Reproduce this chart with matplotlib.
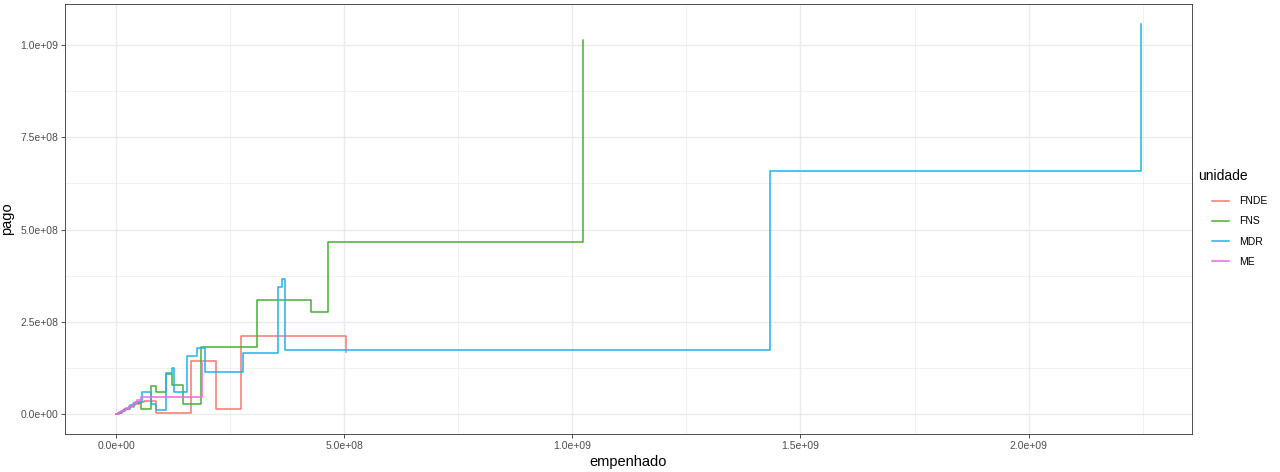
import matplotlib
matplotlib.use("Agg")
import matplotlib.pyplot as plt
from matplotlib.ticker import FuncFormatter, MultipleLocator
from matplotlib.lines import Line2D

SCALE = 1e8  # values below are in units of 1e8

UNITS = ["FNDE", "FNS", "MDR", "ME"]
COLORS = ["#F8766D", "#45B034", "#1FB4E8", "#F266E0"]

fnde_x = [0, 0.04, 0.10, 0.18, 0.28, 0.38, 0.50, 0.61, 0.88, 1.64, 2.19, 2.74, 5.04]
fnde_y = [0, 0.03, 0.08, 0.14, 0.20, 0.28, 0.35, 0.36, 0.04, 1.45, 0.14, 2.13, 1.68]

fns_x = [0, 0.05, 0.12, 0.20, 0.30, 0.40, 0.55, 0.76, 0.88, 1.10, 1.22, 1.47, 1.86, 3.08, 4.26, 4.64, 10.24]
fns_y = [0, 0.04, 0.10, 0.16, 0.22, 0.30, 0.14, 0.77, 0.62, 1.09, 0.79, 0.27, 1.83, 3.10, 2.78, 4.67, 10.13]

mdr_x = [0, 0.03, 0.08, 0.15, 0.22, 0.30, 0.42, 0.56, 0.76, 0.87, 1.09, 1.23, 1.27, 1.56, 1.78,
         1.95, 2.77, 3.54, 3.63, 3.71, 14.34, 22.46]
mdr_y = [0, 0.03, 0.07, 0.12, 0.18, 0.25, 0.35, 0.60, 0.27, 0.13, 1.13, 1.25, 0.60, 1.58, 1.79,
         1.15, 1.65, 3.44, 3.65, 1.75, 6.58, 10.57]

me_x = [0, 0.03, 0.07, 0.12, 0.20, 0.28, 0.36, 0.45, 0.54, 1.89]
me_y = [0, 0.02, 0.06, 0.10, 0.15, 0.22, 0.30, 0.40, 0.48, 1.38]

SERIES = [(fnde_x, fnde_y), (fns_x, fns_y), (mdr_x, mdr_y), (me_x, me_y)]

plt.rcParams["font.family"] = ["Liberation Sans", "DejaVu Sans"]

fig = plt.figure(figsize=(12.8, 4.72), dpi=100)
ax = fig.add_axes([65 / 1280, 1 - 434 / 472, (1192 - 65) / 1280, (434 - 4) / 472])

for (xs, ys), name, col in zip(SERIES, UNITS, COLORS):
    ax.plot([v * SCALE for v in xs], [v * SCALE for v in ys], drawstyle="steps-post",
            color=col, linewidth=1.1, label=name, zorder=3)

ax.margins(0.05)

# theme_bw look
ax.set_facecolor("white")
for s in ax.spines.values():
    s.set_color("#333333")
    s.set_linewidth(0.6)
ax.xaxis.set_major_locator(MultipleLocator(5e8))
ax.xaxis.set_minor_locator(MultipleLocator(2.5e8))
ax.yaxis.set_major_locator(MultipleLocator(2.5e8))
ax.yaxis.set_minor_locator(MultipleLocator(1.25e8))
fmt = FuncFormatter(lambda v, p: f"{v:.1e}")
ax.xaxis.set_major_formatter(fmt)
ax.yaxis.set_major_formatter(fmt)
ax.grid(True, which="major", color="#EBEBEB", linewidth=1.0, zorder=0)
ax.grid(True, which="minor", color="#EBEBEB", linewidth=0.5, zorder=0)
ax.set_axisbelow(True)
ax.tick_params(which="major", length=3, width=0.6, color="#333333",
               labelsize=7.5, labelcolor="#4D4D4D", pad=2)
ax.tick_params(which="minor", length=0)

ax.set_xlabel("empenhado", fontsize=10.5, labelpad=3)
ax.set_ylabel("pago", fontsize=10.5, labelpad=4)

# legend: title as separate text, keys indented like ggplot
fig.text(1198 / 1280, 1 - 176 / 472, "unidade", fontsize=10, va="center", ha="left")
handles = [Line2D([0], [0], color=c, linewidth=1.1) for c in COLORS]
leg = fig.legend(handles, UNITS, loc="upper left",
                 bbox_to_anchor=(1208 / 1280, 1 - 192 / 472), frameon=False,
                 fontsize=7.5, handlelength=1.6, borderaxespad=0,
                 labelspacing=0.98, handletextpad=0.95)

fig.savefig("out.png", dpi=100)
